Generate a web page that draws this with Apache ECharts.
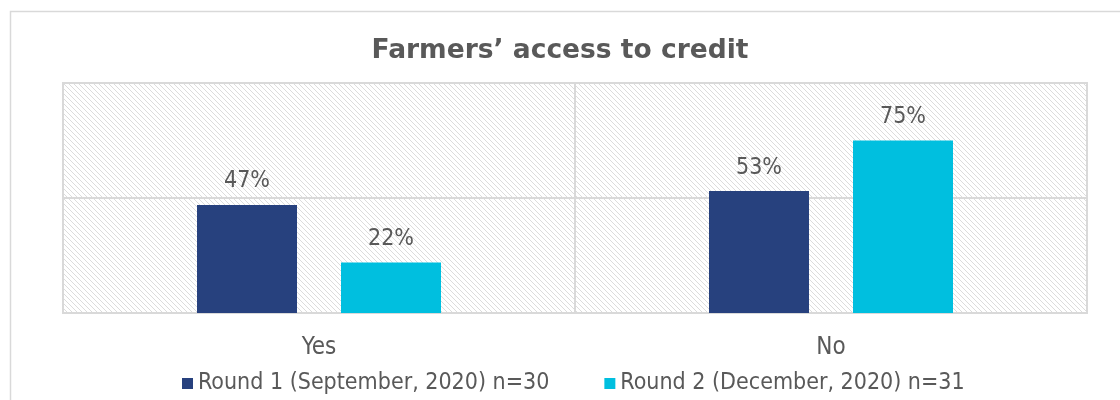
<!DOCTYPE html>
<html>
<head>
<meta charset="utf-8">
<script src="https://cdn.jsdelivr.net/npm/echarts@6/dist/echarts.min.js"></script>
<style>
  html, body { margin: 0; padding: 0; background: #fff; }
  #chart { width: 1120px; height: 400px; }
</style>
</head>
<body>
<div id="chart"></div>
<script>
// Survey answers and the two rounds' percentages
const categories = ['Yes', 'No'];
const round1Name = 'Round 1 (September, 2020) n=30';
const round2Name = 'Round 2 (December, 2020) n=31';
const round1Values = [47, 53];
const round2Values = [22, 75];

const FONT = '"DejaVu Sans Condensed", "Liberation Sans Narrow", sans-serif';
const TITLE_FONT = '"DejaVu Sans", sans-serif';
const TEXT = '#595959';

// Fine diagonal hatch used as the plot area fill
function hatchTile() {
  const n = 5;
  const c = document.createElement('canvas');
  c.width = n; c.height = n;
  const ctx = c.getContext('2d');
  ctx.fillStyle = '#ffffff';
  ctx.fillRect(0, 0, n, n);
  ctx.fillStyle = '#dcdcdc';
  for (let i = 0; i < n; i++) ctx.fillRect(i, i, 1, 1);
  return c;
}

const chart = echarts.init(document.getElementById('chart'), null, { renderer: 'canvas' });
chart.setOption({
  animation: false,
  backgroundColor: '#ffffff',
  graphic: [{
    type: 'rect',
    shape: { x: 10.5, y: 11.5, width: 1130, height: 400 },
    style: { fill: 'none', stroke: '#d9d9d9', lineWidth: 1.5 },
    silent: true
  }],
  title: {
    text: 'Farmers\u2019 access to credit',
    left: 'center',
    top: 33,
    textStyle: { fontFamily: TITLE_FONT, fontSize: 26.5, fontWeight: 'bold', color: TEXT }
  },
  legend: {
    bottom: 0,
    left: 177,
    itemWidth: 11,
    itemHeight: 11,
    itemGap: 55,
    icon: 'rect',
    textStyle: { fontFamily: FONT, fontSize: 23, color: TEXT }
  },
  grid: {
    left: 63, right: 33, top: 83, bottom: 87,
    show: true,
    backgroundColor: { image: hatchTile(), repeat: 'repeat' },
    borderColor: '#d9d9d9',
    borderWidth: 2
  },
  xAxis: {
    type: 'category',
    data: categories,
    axisLine: { show: false },
    axisTick: { show: false },
    splitLine: { show: true, interval: 0, lineStyle: { color: '#d9d9d9', width: 2 } },
    axisLabel: { fontFamily: FONT, fontSize: 24, color: TEXT, margin: 23 }
  },
  yAxis: {
    type: 'value',
    min: 0, max: 100, interval: 50,
    axisLabel: { show: false },
    axisLine: { show: false },
    axisTick: { show: false },
    splitLine: { show: true, lineStyle: { color: '#d9d9d9', width: 2 } }
  },
  series: [
    {
      name: round1Name,
      type: 'bar',
      data: round1Values,
      barWidth: 100,
      barGap: '44%',
      itemStyle: { color: '#27417e' },
      label: { show: true, position: 'top', distance: 12, formatter: '{c}%', fontFamily: FONT, fontSize: 23, color: TEXT }
    },
    {
      name: round2Name,
      type: 'bar',
      data: round2Values,
      barWidth: 100,
      barGap: '44%',
      itemStyle: { color: '#00bfdf' },
      label: { show: true, position: 'top', distance: 12, formatter: '{c}%', fontFamily: FONT, fontSize: 23, color: TEXT }
    }
  ]
});
</script>
</body>
</html>
